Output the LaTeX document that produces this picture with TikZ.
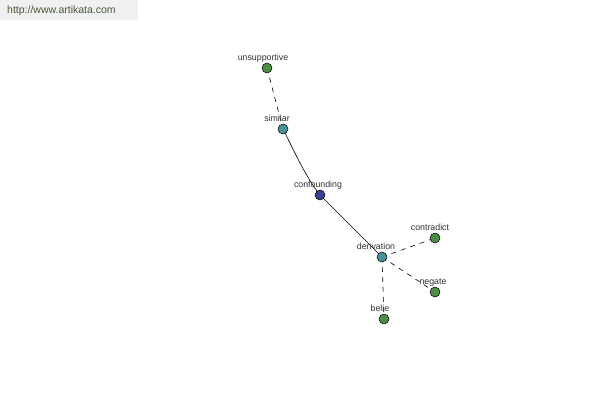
\documentclass[tikz,border=0pt]{standalone}
\usepackage{fontspec}
\setmainfont{Liberation Sans}
\definecolor{nodegreen}{RGB}{76,140,70}
\definecolor{nodeteal}{RGB}{70,145,150}
\definecolor{nodenavy}{RGB}{55,65,145}
\definecolor{hdrbg}{RGB}{240,240,240}
\definecolor{hdrtext}{RGB}{70,90,50}
\definecolor{lbl}{RGB}{50,50,50}
\begin{document}
\begin{tikzpicture}[x=1pt,y=-1pt,
  vertex/.style={circle,draw=black,line width=0.5pt,minimum size=10pt,inner sep=0pt},
  lab/.style={font=\fontsize{8.8}{9}\selectfont,text=lbl,inner sep=0pt,anchor=base},
  weak/.style={dashed,dash pattern=on 5pt off 5pt,line width=0.6pt},
  strong/.style={line width=0.6pt}]
\useasboundingbox (0,0) rectangle (600,400);
\fill[white] (0,0) rectangle (600,400);
\node[fill=hdrbg,minimum width=138pt,minimum height=20pt,anchor=north west,inner sep=0pt] (hdr) at (0,0) {};
\node[anchor=west,text=hdrtext,font=\fontsize{10.5}{12}\selectfont,inner sep=0pt] (url) at (7,11) {http://www.artikata.com};
\coordinate (pU) at (267,68);
\coordinate (pS) at (283,129);
\coordinate (pC) at (320,195);
\coordinate (pD) at (382,257);
\coordinate (pT) at (435,238);
\coordinate (pN) at (435,292);
\coordinate (pB) at (384,319);
\draw[weak] (pU) -- (pS);
\draw[strong] (pS) .. controls (296,155) and (306,177) .. (pC);
\draw[strong] (pC) -- (pD);
\draw[weak] (pD) -- (pT);
\draw[weak] (pD) -- (pN);
\draw[weak] (pD) -- (pB);
\node[vertex,fill=nodegreen] (unsupportive) at (pU) {};
\node[vertex,fill=nodeteal] (similar) at (pS) {};
\node[vertex,fill=nodenavy] (confounding) at (pC) {};
\node[vertex,fill=nodeteal] (derivation) at (pD) {};
\node[vertex,fill=nodegreen] (contradict) at (pT) {};
\node[vertex,fill=nodegreen] (negate) at (pN) {};
\node[vertex,fill=nodegreen] (belie) at (pB) {};
\node[lab] (lU) at (263,60) {unsupportive};
\node[lab] (lS) at (277,121) {similar};
\node[lab] (lC) at (318,187) {confounding};
\node[lab] (lD) at (376,249) {derivation};
\node[lab] (lT) at (430,230) {contradict};
\node[lab] (lN) at (433,284) {negate};
\node[lab] (lB) at (380,311) {belie};
\end{tikzpicture}
\end{document}
